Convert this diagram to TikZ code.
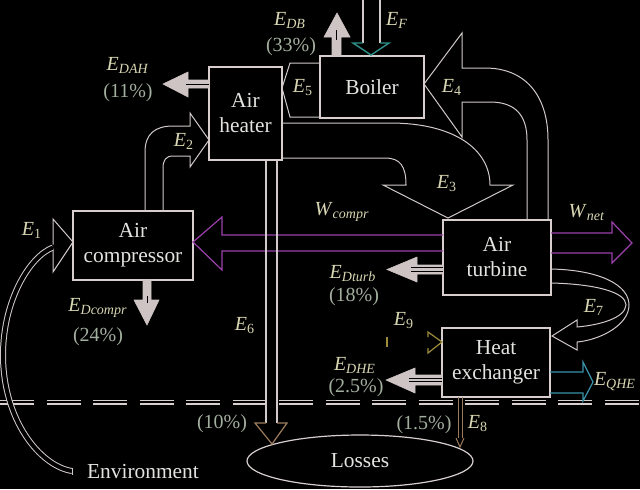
\documentclass[tikz,border=0pt]{standalone}
\usepackage{fontspec}
\setmainfont{Liberation Serif}
\usetikzlibrary{positioning,shapes.geometric}

\definecolor{boxline}{HTML}{D8CECE}
\definecolor{boxtext}{HTML}{E2E4E0}
\definecolor{lbltext}{HTML}{D8D6B2}
\definecolor{pcttext}{HTML}{A2AE9E}
\definecolor{flow}{HTML}{D2CACA}
\definecolor{loss}{HTML}{CEC4C4}
\definecolor{work}{HTML}{9C40AC}
\definecolor{fuel}{HTML}{2E9088}
\definecolor{heat}{HTML}{3A92A8}
\definecolor{lossline}{HTML}{9C7C5C}
\definecolor{recirc}{HTML}{9C8C3C}

\newcommand{\En}[1]{\textit{E}\textsubscript{#1}}

\begin{document}
\begin{tikzpicture}[x=0.5pt, y=-0.5pt,
    unit/.style={rectangle, draw=boxline, line width=1pt, fill=black, text=boxtext, align=center, inner sep=2pt, font=\rmfamily\fontsize{10.7}{12.5}\selectfont},
    sinkbox/.style={ellipse, draw=boxline, line width=0.6pt, text=boxtext, font=\rmfamily\fontsize{10.7}{12.5}\selectfont, minimum width=113pt, minimum height=26pt},
    lbl/.style={text=lbltext, font=\rmfamily\fontsize{10}{11}\selectfont, inner sep=0pt},
    pct/.style={text=pcttext, font=\rmfamily\fontsize{10}{11}\selectfont, inner sep=0pt},
    hollow/.style={draw=flow, line width=0.5pt, line join=miter},
    destr/.style={fill=loss, draw=loss, line width=0.3pt}
]
\fill[black] (0,0) rectangle (640,489);
\useasboundingbox (0,0) rectangle (640,489);

% Environment boundary
\draw[draw=boxline, line width=0.75pt, double=black, double distance=1pt, dash pattern=on 17pt off 6.25pt] (0,402) -- (640,402);

% Units
\node[unit, minimum width=36.5pt, minimum height=46.5pt] (heater) at (245.5,113.5) {Air\\heater};
\node[unit, minimum width=52pt, minimum height=31pt] (boiler) at (372,87) {Boiler};
\node[unit, minimum width=60pt, minimum height=34.5pt] (compr) at (133,245.5) {Air\\compressor};
\node[unit, minimum width=54pt, minimum height=37.5pt] (turb) at (497,257.5) {Air\\turbine};
\node[unit, minimum width=54pt, minimum height=34.5pt] (hx) at (496,362.5) {Heat\\exchanger};
\node[sinkbox] (losses) at (360,461) {Losses};
\node[text=boxtext, font=\rmfamily\fontsize{10.7}{12.5}\selectfont] (env) at (143,472) {Environment};

% Flows between units
\draw[flow, line width=0.5pt, double=black, double distance=2pt] (72,471) .. controls (40,466) and (3,420) .. (3,355) .. controls (3,300) and (30,256) .. (53,247.5);
\draw[flow, line width=0.5pt] (72,467.5) -- (72,474.5);
\draw[hollow] (53,244.5) -- (53,219) -- (73,242) -- (53,272) -- (53,250.5);
\draw[hollow] (145,211) -- (145,152) .. controls (145,134) and (155,126) .. (173,126) -- (190,126) -- (190,113) -- (209,140) -- (190,167) -- (190,156) -- (173,156) .. controls (166,156) and (163,160) .. (163,168) -- (163,211);
\draw[hollow] (282,123) -- (390,123) .. controls (455,123) and (490,150) .. (490,185) -- (513,185) -- (448,218) -- (383,185) -- (406,185) .. controls (406,166) and (400,158) .. (385,158) -- (282,158);
\draw[hollow] (548,220) -- (548,140) .. controls (548,95) and (525,68) .. (485,68) -- (462,68) -- (462,33) -- (424,84) -- (462,137) -- (462,102) -- (490,102) .. controls (515,102) and (527,115) .. (527,140) -- (527,220);
\draw[hollow] (320,63) -- (290,63) -- (282,88) -- (290,117) -- (320,117);
\draw[hollow] (551,269) .. controls (600,270) and (629,285) .. (629,305) .. controls (629,325) and (600,340) .. (577,342) -- (577,350) -- (552,336) -- (577,320) -- (577,327) .. controls (600,325) and (625,318) .. (626,305) .. controls (626,292) and (595,284) .. (551,283);

% Fuel input
\draw[flow, line width=0.6pt] (363,0) -- (363,43) (380,0) -- (380,43);
\draw[fuel, line width=0.7pt, line join=miter] (363,43) -- (353,43) -- (371,55) -- (389,43) -- (380,43);

% Work
\draw[work, line width=0.6pt, line join=miter] (443,235) -- (222,235) -- (222,217) -- (193,242) -- (222,270) -- (222,251) -- (443,251);
\draw[work, line width=0.6pt, line join=miter] (551,233) -- (612,233) -- (612,222) -- (632,243) -- (612,263) -- (612,253) -- (551,253);

% Heat product and recirculation
\draw[heat, line width=0.6pt, line join=miter] (550,372) -- (583,372) -- (583,362) -- (593,382) -- (583,401) -- (583,393) -- (550,393);
\draw[recirc, line width=0.6pt, line join=miter] (428,337) -- (428,332) -- (442,342) -- (428,353) -- (428,348);
\draw[recirc, line width=0.6pt] (387,337) -- (387,347);

% Losses to environment
\draw[flow, line width=0.6pt] (266,160) -- (266,423) (277,160) -- (277,423);
\draw[lossline, line width=0.6pt, line join=miter] (266,423) -- (255,423) -- (272,444) -- (287,423) -- (277,423);
\draw[lossline, line width=0.5pt] (458,397) -- (458,438) (462,397) -- (462,438);
\draw[lossline, line width=0.5pt] (456,438) -- (460,447) -- (464,438);

% Exergy destruction
\draw[destr] (209,80) -- (188,80) -- (188,72) -- (163,84) -- (188,97) -- (188,88) -- (209,88) -- cycle;
\draw[black, line width=0.4pt] (186,84) -- (209,84);
\draw[destr] (332,56) -- (332,37) -- (324,37) -- (337,13) -- (350,37) -- (341,37) -- (341,56) -- cycle;
\draw[black, line width=0.4pt] (336.5,30) -- (336.5,40);
\draw[destr] (143,280) -- (143,300) -- (134,300) -- (147,325) -- (159,300) -- (151,300) -- (151,280) -- cycle;
\draw[black, line width=0.5pt] (147,296) -- (147,303);
\draw[destr] (443,265) -- (417,265) -- (417,257) -- (387,269.5) -- (417,282) -- (417,274) -- (443,274) -- cycle;
\draw[black, line width=0.4pt] (411,267.5) -- (443,267.5) (411,271) -- (443,271);
\draw[destr] (442,375) -- (415,375) -- (415,368) -- (386,380) -- (415,393) -- (415,385) -- (442,385) -- cycle;
\draw[black, line width=0.4pt] (409,378) -- (442,378) (409,381.5) -- (442,381.5);

% Labels
\node[lbl] (e1) at (32,230) {\En{1}};
\node[lbl] (e2) at (184,141) {\En{2}};
\node[lbl] (e3) at (447,184) {\En{3}};
\node[lbl] (e4) at (452,87) {\En{4}};
\node[lbl] (e5) at (303,88) {\En{5}};
\node[lbl] (e6) at (245,326) {\En{6}};
\node[lbl] (e7) at (594,307) {\En{7}};
\node[lbl] (e8) at (478,424) {\En{8}};
\node[lbl] (e9) at (404,321) {\En{9}};
\node[lbl] (ef) at (397,20) {\En{\textit{F}}};
\node[lbl] (edah) at (128,65) {\En{\textit{DAH}}};
\node[pct] (pdah) at (128,93) {(11\%)};
\node[lbl] (edb) at (290,20) {\En{\textit{DB}}};
\node[pct] (pdb) at (291,47) {(33\%)};
\node[lbl] (edc) at (98,308) {\En{\textit{Dcompr}}};
\node[pct] (pdc) at (98,337) {(24\%)};
\node[lbl] (edt) at (353,274) {\En{\textit{Dturb}}};
\node[pct] (pdt) at (354,297) {(18\%)};
\node[lbl] (edhe) at (355,365) {\En{\textit{DHE}}};
\node[pct] (pdhe) at (356,388) {(2.5\%)};
\node[lbl] (eqhe) at (615,382) {\En{\textit{QHE}}};
\node[pct] (p6) at (222,424) {(10\%)};
\node[pct] (p8) at (424,425) {(1.5\%)};
\node[lbl] (wc) at (342,212) {\textit{W}\textsubscript{\textit{compr}}};
\node[lbl] (wn) at (587,213) {\textit{W}\textsubscript{\textit{net}}};

\end{tikzpicture}
\end{document}
